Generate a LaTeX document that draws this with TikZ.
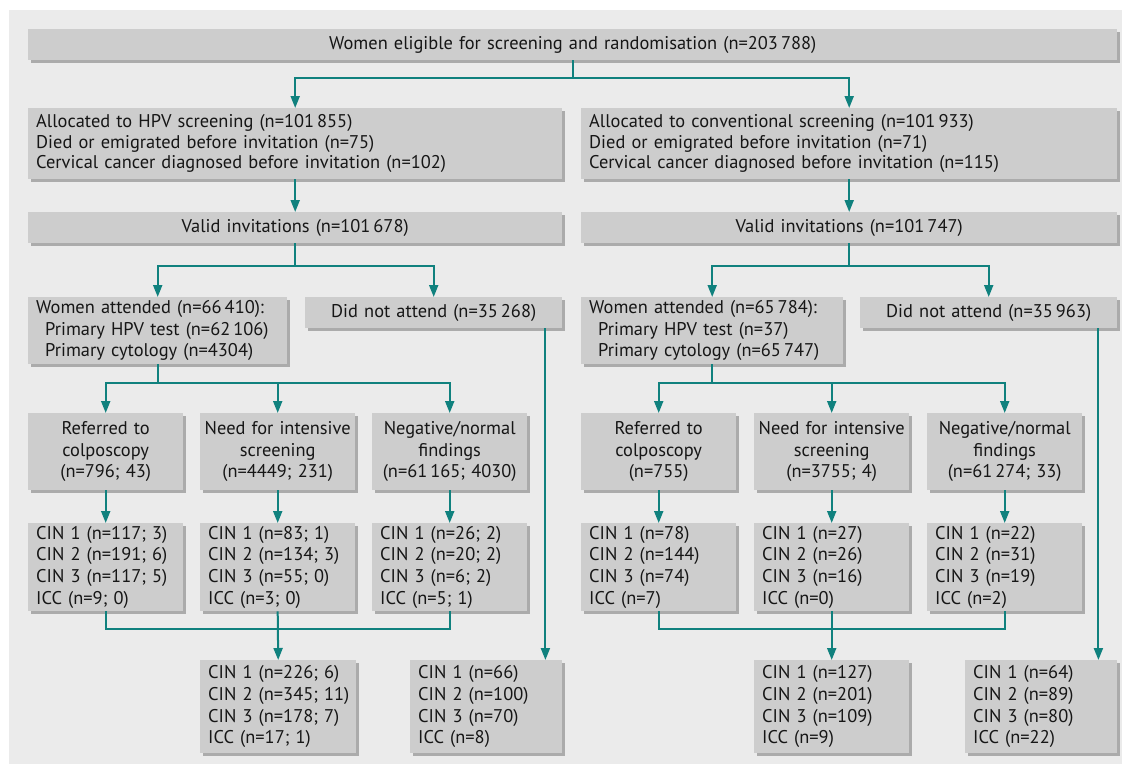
\documentclass[tikz,border=0pt]{standalone}
\usepackage{fontspec}
\setmainfont{PT Sans}
\usetikzlibrary{arrows.meta,positioning,calc,shadows}
\definecolor{panelgrey}{HTML}{EBEBEB}
\definecolor{boxgrey}{HTML}{CDCDCD}
\definecolor{shadegrey}{HTML}{ABABAB}
\definecolor{flowteal}{HTML}{10817E}
\definecolor{flowink}{HTML}{161616}
\newcommand{\ind}{\hspace*{9pt}}

\begin{document}
\begin{tikzpicture}[x=1pt, y=-1pt, >={Triangle[width=9pt,length=12pt]},
  box/.style={fill=boxgrey, drop shadow={shadow xshift=3pt, shadow yshift=-3pt, fill=shadegrey, opacity=1},
    anchor=north west, inner ysep=0pt, text=flowink, font=\fontsize{18.4}{21.7}\selectfont},
  lbox/.style={box, inner xsep=8pt, align=left},
  cbox/.style={box, inner xsep=1pt, align=center},
  flow/.style={draw=flowteal, line width=2pt}]
  \useasboundingbox (0,0) rectangle (1122,764);
  \fill[panelgrey] (9,10) rectangle (1122,764);

  % randomisation
  \node[cbox, text width=1087pt, minimum height=31pt] (elig) at (28,29)
    {Women eligible for screening and randomisation (n=203\,788)};
  \node[lbox, text width=518pt, minimum height=71pt, font=\fontsize{18.4}{20.5}\selectfont] (hpv) at (28,108)
    {Allocated to HPV screening (n=101\,855)\\Died or emigrated before invitation (n=75)\\Cervical cancer diagnosed before invitation (n=102)};
  \node[lbox, text width=520pt, minimum height=71pt, font=\fontsize{18.4}{20.5}\selectfont] (conv) at (581,108)
    {Allocated to conventional screening (n=101\,933)\\Died or emigrated before invitation (n=71)\\Cervical cancer diagnosed before invitation (n=115)};
  \node[cbox, text width=532pt, minimum height=31pt] (validL) at (28,212) {Valid invitations (n=101\,678)};
  \node[cbox, text width=534pt, minimum height=31pt] (validR) at (581,212) {Valid invitations (n=101\,747)};

  % attendance
  \node[lbox, text width=243pt, minimum height=67pt] (attL) at (28,297)
    {Women attended (n=66\,410):\\\ind Primary HPV test (n=62\,106)\\\ind Primary cytology (n=4304)};
  \node[cbox, text width=255pt, minimum height=31pt] (dnaL) at (305,297) {Did not attend (n=35\,268)};
  \node[lbox, text width=246pt, minimum height=67pt] (attR) at (581,297)
    {Women attended (n=65\,784):\\\ind Primary HPV test (n=37)\\\ind Primary cytology (n=65\,747)};
  \node[cbox, text width=255pt, minimum height=31pt] (dnaR) at (860,297) {Did not attend (n=35\,963)};

  % screening results
  \node[cbox, text width=153pt, minimum height=77pt] (refL) at (28,413) {Referred to\\colposcopy\\(n=796; 43)};
  \node[cbox, text width=153pt, minimum height=77pt] (needL) at (200,413) {Need for intensive\\screening\\(n=4449; 231)};
  \node[cbox, text width=153pt, minimum height=77pt] (negL) at (372,413) {Negative/normal\\findings\\(n=61\,165; 4030)};
  \node[cbox, text width=153pt, minimum height=77pt] (refR) at (581,413) {Referred to\\colposcopy\\(n=755)};
  \node[cbox, text width=153pt, minimum height=77pt] (needR) at (754,413) {Need for intensive\\screening\\(n=3755; 4)};
  \node[cbox, text width=153pt, minimum height=77pt] (negR) at (927,413) {Negative/normal\\findings\\(n=61\,274; 33)};

  % histology
  \node[lbox, text width=139pt, minimum height=88pt] (cinrefL) at (28,523)
    {CIN 1 (n=117; 3)\\CIN 2 (n=191; 6)\\CIN 3 (n=117; 5)\\ICC (n=9; 0)};
  \node[lbox, text width=139pt, minimum height=88pt] (cinneedL) at (200,523)
    {CIN 1 (n=83; 1)\\CIN 2 (n=134; 3)\\CIN 3 (n=55; 0)\\ICC (n=3; 0)};
  \node[lbox, text width=139pt, minimum height=88pt] (cinnegL) at (372,523)
    {CIN 1 (n=26; 2)\\CIN 2 (n=20; 2)\\CIN 3 (n=6; 2)\\ICC (n=5; 1)};
  \node[lbox, text width=139pt, minimum height=88pt] (cinrefR) at (581,523)
    {CIN 1 (n=78)\\CIN 2 (n=144)\\CIN 3 (n=74)\\ICC (n=7)};
  \node[lbox, text width=139pt, minimum height=88pt] (cinneedR) at (754,523)
    {CIN 1 (n=27)\\CIN 2 (n=26)\\CIN 3 (n=16)\\ICC (n=0)};
  \node[lbox, text width=139pt, minimum height=88pt] (cinnegR) at (927,523)
    {CIN 1 (n=22)\\CIN 2 (n=31)\\CIN 3 (n=19)\\ICC (n=2)};

  % totals
  \node[lbox, text width=140pt, minimum height=93pt] (totL) at (200,660)
    {CIN 1 (n=226; 6)\\CIN~2~(n=345;~11)\\CIN 3 (n=178; 7)\\ICC (n=17; 1)};
  \node[lbox, text width=136pt, minimum height=93pt] (outL) at (410,660)
    {CIN 1 (n=66)\\CIN 2 (n=100)\\CIN 3 (n=70)\\ICC (n=8)};
  \node[lbox, text width=139pt, minimum height=93pt] (totR) at (754,660)
    {CIN 1 (n=127)\\CIN 2 (n=201)\\CIN 3 (n=109)\\ICC (n=9)};
  \node[lbox, text width=136pt, minimum height=93pt] (outR) at (965,660)
    {CIN 1 (n=64)\\CIN 2 (n=89)\\CIN 3 (n=80)\\ICC (n=22)};

  % connectors
  \draw[flow, ->] (elig.south) -- ++(0,18) -| (hpv.north);
  \draw[flow, ->] (elig.south) -- ++(0,18) -| (conv.north);
  \draw[flow, ->] (hpv.south) -- (validL.north);
  \draw[flow, ->] (conv.south) -- (validR.north);
  \draw[flow, ->] (validL.south) -- ++(0,23) -| (attL.north);
  \draw[flow, ->] (validL.south) -- ++(0,23) -| (dnaL.north);
  \draw[flow, ->] (validR.south) -- ++(0,23) -| (attR.north);
  \draw[flow, ->] (validR.south) -- ++(0,23) -| (dnaR.north);
  \foreach \side in {L,R}{
    \draw[flow, ->] (att\side.south) -- ++(0,19) -| (ref\side.north);
    \draw[flow, ->] (att\side.south) -- ++(0,19) -| (need\side.north);
    \draw[flow, ->] (att\side.south) -- ++(0,19) -| (neg\side.north);
    \draw[flow, ->] (ref\side.south) -- (cinref\side.north);
    \draw[flow, ->] (need\side.south) -- (cinneed\side.north);
    \draw[flow, ->] (neg\side.south) -- (cinneg\side.north);
    \draw[flow] (cinref\side.south) -- ++(0,18) -| (cinneg\side.south);
    \draw[flow, ->] (cinneed\side.south) -- (tot\side.north);
  }
  \draw[flow, ->] ([xshift=-17pt]dnaL.south east) -- ([xshift=-17pt]outL.north east);
  \draw[flow, ->] ([xshift=-19pt]dnaR.south east) -- ([xshift=-19pt]outR.north east);
\end{tikzpicture}
\end{document}
